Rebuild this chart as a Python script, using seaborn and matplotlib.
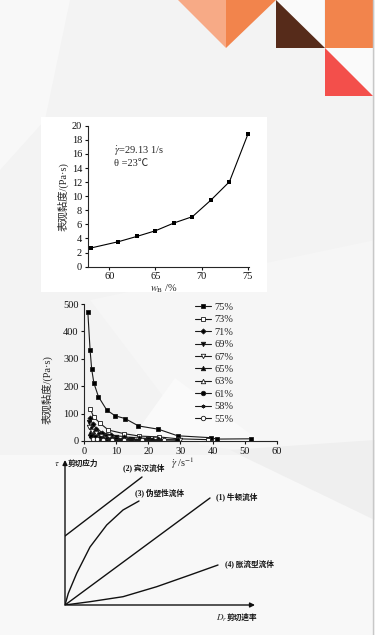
import numpy as np
import pandas as pd
import matplotlib.pyplot as plt
import seaborn as sns
from matplotlib.patches import Polygon, Rectangle

sns.set_style('ticks')
plt.rcParams['font.family'] = ['Liberation Serif', 'Noto Sans CJK SC']
plt.rcParams['mathtext.fontset'] = 'stix'
plt.rcParams['axes.linewidth'] = 0.8

# chart 1: viscosity vs mass fraction
wb = [58, 61, 63, 65, 67, 69, 71, 73, 75]
visc_wb = [2.65, 3.55, 4.3, 5.1, 6.2, 7.1, 9.45, 12.05, 18.8]

# chart 2: viscosity vs shear rate, one list pair per series
series_names = ['75%', '73%', '71%', '69%', '67%', '65%', '63%', '61%', '58%', '55%']
rate = {
    '75%': [1.1, 1.8, 2.3, 3.0, 4.4, 7.0, 9.6, 12.7, 16.9, 23.1, 29.1, 39.5, 41.3, 52.0],
    '73%': [1.9, 2.9, 4.9, 7.5, 12.3, 17.2, 23.2, 29.3, 38.5],
    '71%': [1.7, 2.6, 3.8, 5.6, 8.4, 12.5, 17.0, 23.0],
    '69%': [1.4, 2.2, 3.1, 4.6, 6.8, 10.0, 14.5, 20.0],
    '67%': [1.6, 2.5, 3.5, 5.2, 7.6, 11.0, 16.0, 22.0, 30.0],
    '65%': [1.8, 2.7, 3.9, 5.8, 8.5, 12.0, 17.0, 24.0],
    '63%': [2.0, 3.0, 4.3, 6.3, 9.0, 13.0, 18.5],
    '61%': [2.2, 3.3, 4.8, 7.0, 10.0, 14.5, 21.0, 29.0],
    '58%': [2.4, 3.6, 5.2, 7.8, 11.2, 16.0, 23.0],
    '55%': [2.6, 3.9, 5.7, 8.5, 12.5, 18.0, 25.0],
}
visc_rate = {
    '75%': [471, 333, 262, 211, 162, 113, 92, 82, 55, 43, 19, 12, 7, 8],
    '73%': [117, 88, 65, 40, 27, 18, 15, 8, 5],
    '71%': [84, 62, 45, 31, 22, 15, 11, 8],
    '69%': [68, 48, 35, 25, 18, 13, 9, 6],
    '67%': [52, 38, 28, 20, 15, 11, 8, 6, 4],
    '65%': [28, 21, 16, 12, 9, 7, 5, 4],
    '63%': [22, 17, 13, 10, 8, 6, 4],
    '61%': [17, 13, 10, 8, 6, 5, 4, 3],
    '58%': [12, 9, 7, 6, 5, 4, 3],
    '55%': [8, 6, 5, 4, 3, 3, 2],
}
mk = {'75%': ('s', 'k'), '73%': ('s', 'w'), '71%': ('D', 'k'), '69%': ('v', 'k'),
      '67%': ('v', 'w'), '65%': ('^', 'k'), '63%': ('^', 'w'), '61%': ('o', 'k'),
      '58%': ((6, 2, 0), 'k'), '55%': ('o', 'w')}

# chart 3: schematic flow curves (axes units)
newton_x = [0, 145]
newton_y = [0, 107]
bingham_x = [0, 77]
bingham_y = [69, 128]
pseudo_x = [0, 3.3, 11.7, 25, 41.7, 58, 74]
pseudo_y = [0, 11.7, 31.7, 58, 80, 95, 104]
dilat_x = [0, 25, 58, 91.7, 125, 153]
dilat_y = [0, 3.3, 8.3, 18.3, 30, 40]

W, H = 375, 635
fig = plt.figure(figsize=(3.75, 6.35), dpi=100)
fig.patch.set_facecolor('#f3f3f3')


def px(x0, y0, x1, y1):
    return [x0 / W, 1 - y1 / H, (x1 - x0) / W, (y1 - y0) / H]


# slide background and decoration
bg = fig.add_axes([0, 0, 1, 1], zorder=-5)
bg.set_xlim(0, W)
bg.set_ylim(H, 0)
bg.axis('off')
bg.add_patch(Polygon([(0, 0), (70, 0), (45, 120), (0, 170)], color='#f8f8f8', lw=0))
bg.add_patch(Polygon([(90, 300), (375, 240), (375, 470), (200, 445)], color='#f6f6f6', lw=0))
bg.add_patch(Polygon([(130, 441), (175, 378), (260, 441)], color='#fafafa', lw=0))
bg.add_patch(Polygon([(0, 455), (240, 455), (375, 520), (375, 635), (0, 635)], color='#f8f8f8', lw=0))
bg.add_patch(Polygon([(230, 450), (375, 440), (375, 520)], color='#efefef', lw=0))
bg.add_patch(Polygon([(178, 0), (226, 0), (226, 48)], color='#f7aa86', lw=0))
bg.add_patch(Polygon([(226, 0), (276, 0), (226, 48)], color='#f2844c', lw=0))
bg.add_patch(Polygon([(276, 0), (324, 0), (324, 48)], color='#fafafa', lw=0))
bg.add_patch(Polygon([(276, 0), (276, 48), (324.5, 48)], color='#562b1a', lw=0))
bg.add_patch(Rectangle((325, 0), 48, 48, color='#f2844c', lw=0))
bg.add_patch(Polygon([(325, 48), (373, 48), (373, 96)], color='#fafafa', lw=0))
bg.add_patch(Polygon([(325, 48), (325, 96), (373, 96)], color='#f34f4b', lw=0))
bg.plot([372.5, 372.5], [0, H], color='#c8c8c8', lw=1)
bg.add_patch(Rectangle((41, 117), 226, 175, color='white', lw=0))

tick_kw = dict(direction='out', length=2.5, width=0.8, pad=1.5, labelsize=7.5, colors='#111111')

# ---- chart 1
ax1 = fig.add_axes(px(87.7, 125.7, 249.3, 266.7))
ax1.set_facecolor('none')
sns.lineplot(x=wb, y=visc_wb, ax=ax1, color='black', lw=0.8, marker='s',
             markersize=3.5, markeredgewidth=0)
ax1.set_xlim(57.67, 75.15)
ax1.set_ylim(0, 20)
ax1.set_xticks([60, 65, 70, 75])
ax1.set_yticks(range(0, 21, 2))
ax1.tick_params(**tick_kw)
sns.despine(ax=ax1)
ax1.set_ylabel('表观黏度/(Pa·s)', fontsize=7.5, va='center')
ax1.yaxis.set_label_coords(-0.153, 0.5)
ax1.set_xlabel(r'$w_{\mathrm{B}}$ /%', fontsize=7.5, va='center')
ax1.xaxis.set_label_coords(0.47, -0.158)
ax1.text(60.5, 16.4, r'$\dot{\gamma}$=29.13 1/s', fontsize=7.5, va='center')
ax1.text(60.5, 14.7, 'θ =23℃', fontsize=7.5, va='center')

# ---- chart 2
ax2 = fig.add_axes(px(84.3, 304, 276.7, 441))
ax2.set_facecolor('none')
for name in series_names:
    m, fc = mk[name]
    ms = 3.2 if m in ('s', 'v', '^', 'o') else 2.6
    sns.lineplot(x=rate[name], y=visc_rate[name], ax=ax2, color='#1a1a1a', lw=0.8,
                 marker=m, markersize=ms, markerfacecolor=fc, markeredgecolor='#1a1a1a',
                 markeredgewidth=0.6, label=name)
ax2.set_xlim(0, 60)
ax2.set_ylim(0, 500)
ax2.set_xticks(range(0, 61, 10))
ax2.set_yticks(range(0, 501, 100))
ax2.tick_params(**tick_kw)
sns.despine(ax=ax2)
ax2.set_ylabel('表观黏度/(Pa·s)', fontsize=7.5, va='center')
ax2.yaxis.set_label_coords(-0.194, 0.372)
ax2.set_xlabel(r'$\dot{\gamma}$ /s$^{-1}$', fontsize=7.5, va='center')
ax2.xaxis.set_label_coords(0.513, -0.165)
ax2.legend(loc='upper left', bbox_to_anchor=(0.575, 1.01), borderaxespad=0, borderpad=0,
           frameon=False, fontsize=7.5, handlelength=1.55, handletextpad=0.35,
           labelspacing=0.3)

# ---- chart 3
ax3 = fig.add_axes(px(65, 460, 255, 605))
ax3.set_facecolor('none')
ax3.set_xlim(0, 190)
ax3.set_ylim(0, 145)
ax3.axis('off')
for cx, cy in [(newton_x, newton_y), (bingham_x, bingham_y),
               (pseudo_x, pseudo_y), (dilat_x, dilat_y)]:
    sns.lineplot(x=cx, y=cy, ax=ax3, color='#111111', lw=1.0, sort=False)
arrow = dict(arrowstyle='-|>', lw=1.0, color='#111111', mutation_scale=7, shrinkA=0, shrinkB=0)
ax3.annotate('', xy=(0, 145), xytext=(0, 0), arrowprops=arrow)
ax3.annotate('', xy=(190, 0), xytext=(0, 0), arrowprops=arrow)
lab = dict(fontsize=5.5, fontweight='bold', va='center', ha='left', color='#111111')
ax3.text(-11, 141, r'$\tau$', fontsize=6.5, va='center', ha='left')
ax3.text(3, 141, '剪切应力', **lab)
ax3.text(58, 137, '(2) 宾汉流体', **lab)
ax3.text(70, 112, '(3) 伪塑性流体', **lab)
ax3.text(151, 108, '(1) 牛顿流体', **lab)
ax3.text(160, 41, '(4) 胀流型流体', **lab)
ax3.text(151, -13, r'$D_r$', fontsize=6.5, va='center', ha='left')
ax3.text(162, -13, '剪切速率', **lab)

fig.savefig('out.png', dpi=100, facecolor=fig.get_facecolor())
